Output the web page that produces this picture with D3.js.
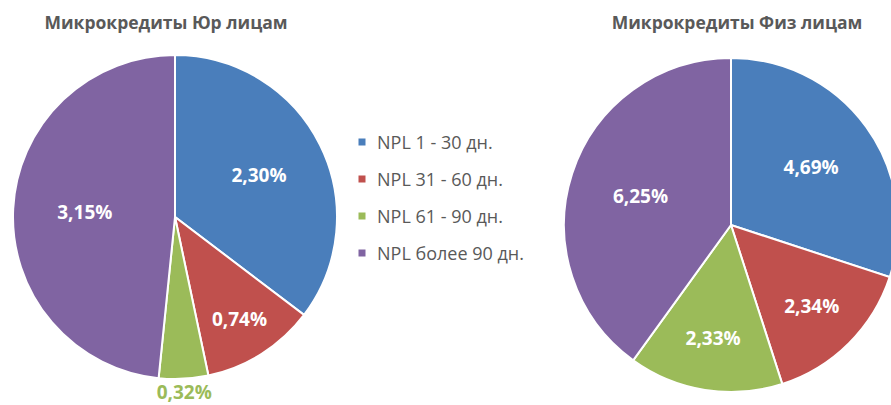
<!DOCTYPE html>
<html><head><meta charset="utf-8">
<script src="https://cdn.jsdelivr.net/npm/d3@7"></script>
<style>
html,body{margin:0;padding:0;background:#fff;overflow:hidden}
svg{display:block}
</style></head>
<body>
<svg id="chart" width="891" height="405"></svg>
<script>
const categories = ["NPL 1 - 30 дн.", "NPL 31 - 60 дн.", "NPL 61 - 90 дн.", "NPL более 90 дн."];
const legalValues = [2.30, 0.74, 0.32, 3.15];
const legalLabels = ["2,30%", "0,74%", "0,32%", "3,15%"];
const personalValues = [4.69, 2.34, 2.33, 6.25];
const personalLabels = ["4,69%", "2,34%", "2,33%", "6,25%"];
const titles = ["Микрокредиты Юр лицам", "Микрокредиты Физ лицам"];
const colors = ["#4A7EBB", "#C0504D", "#9BBB59", "#8064A2"];

const svg = d3.select("#chart");
const font = "'Open Sans', 'Noto Sans', sans-serif";
const color = d3.scaleOrdinal().domain(categories).range(colors);

function drawPie(values, labels, title, cx, cy, r, tx, ty) {
  const data = categories.map((c, i) => ({cat: c, value: values[i], label: labels[i]}));
  const pie = d3.pie().value(d => d.value).sort(null);
  const arcs = pie(data);
  const arc = d3.arc().innerRadius(0).outerRadius(r);
  const g = svg.append("g").attr("transform", `translate(${cx},${cy})`);
  g.selectAll("path").data(arcs).join("path")
    .attr("d", arc)
    .attr("fill", d => color(d.data.cat))
    .attr("stroke", "#fff")
    .attr("stroke-width", 2);
  g.selectAll("text").data(arcs).join("text")
    .each(function(d) {
      const ang = (d.endAngle - d.startAngle) * 180 / Math.PI;
      const mid = (d.startAngle + d.endAngle) / 2;
      const outside = ang < 22;
      const f = outside ? 1.08 : 0.5 + 10 / ang;
      const rr = r * f;
      d3.select(this)
        .attr("x", rr * Math.sin(mid))
        .attr("y", -rr * Math.cos(mid))
        .attr("fill", outside ? color(d.data.cat) : "#fff");
    })
    .attr("text-anchor", "middle")
    .attr("dominant-baseline", "central")
    .attr("font-family", font)
    .attr("font-weight", "bold")
    .attr("font-size", 19)
    .text(d => d.data.label);
  svg.append("text")
    .attr("x", tx).attr("y", ty)
    .attr("text-anchor", "middle")
    .attr("font-family", font)
    .attr("font-weight", "bold")
    .attr("font-size", 17.5)
    .attr("fill", "#595959")
    .text(title);
}

drawPie(legalValues, legalLabels, titles[0], 175, 217, 162, 166, 29);
drawPie(personalValues, personalLabels, titles[1], 731, 225, 167, 737, 29);

const legend = svg.append("g");
const ly = d3.scalePoint().domain(categories).range([142, 253]);
const items = legend.selectAll("g").data(categories).join("g")
  .attr("transform", d => `translate(362,${ly(d)})`);
items.append("rect").attr("x", -3.5).attr("y", -3.5).attr("width", 7).attr("height", 7)
  .attr("fill", d => color(d));
items.append("text").attr("x", 15).attr("y", 0)
  .attr("dominant-baseline", "central")
  .attr("font-family", font)
  .attr("font-size", 18)
  .attr("fill", "#595959")
  .text(d => d);
</script>
</body></html>
